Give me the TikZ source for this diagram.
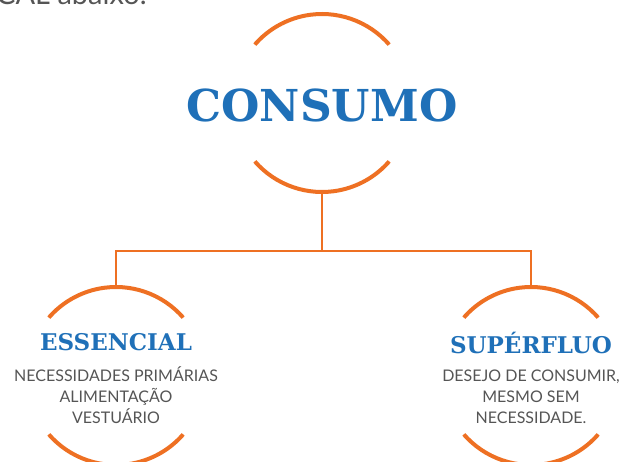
\documentclass[tikz,border=0pt]{standalone}
\usepackage{fontspec}
\usepackage{tikz}
\newfontfamily\slabfont{DejaVu Serif}[BoldFont={DejaVu Serif Bold}]
\newfontfamily\bodyfont{Lato}
\definecolor{laranja}{HTML}{EE7023}
\definecolor{azul}{HTML}{1F70B8}
\definecolor{cinza}{HTML}{555555}

\begin{document}
\begin{tikzpicture}[x=1pt, y=1pt,
        arco/.style={laranja, line width=4pt},
        ligacao/.style={laranja, line width=2.6pt},
        titulo/.style={azul, font=\slabfont\bfseries\fontsize{23}{23}\selectfont, inner sep=0pt},
        texto/.style={cinza, font=\bodyfont\fontsize{16}{21}\selectfont, align=center, inner sep=0pt, anchor=base}]
        \useasboundingbox (0, 0) rectangle (623, 461);

        \node[cinza, font=\bodyfont\fontsize{29}{29}\selectfont, anchor=base west, inner sep=0pt] (cabeca) at (-4, 456) {CAL abaixo.};

        \coordinate (C0) at (322, 358);
        \coordinate (C1) at (116, 85);
        \coordinate (C2) at (531, 85);

        \node[azul, font=\slabfont\bfseries\fontsize{44}{44}\selectfont, inner sep=0pt] (consumo) at (322, 356) {CONSUMO};
        \node[titulo] (essencial) at (116, 118.5) {ESSENCIAL};
        \node[titulo] (superfluo) at (531, 118.5) {SUPÉRFLUO};

        % base = last line
        \node[texto] (primarias) at (116, 38) {NECESSIDADES PRIMÁRIAS\\ALIMENTAÇÃO\\VESTUÁRIO};
        \node[texto] (desejo) at (531, 38) {DESEJO DE CONSUMIR,\\MESMO SEM\\NECESSIDADE.};

        \foreach \c in {C0, C1, C2} {
            \draw[arco] ([shift={(41:89)}]\c) arc (41:139:89);
            \draw[arco] ([shift={(221:89)}]\c) arc (221:319:89);
        }

        \coordinate (B0) at ([yshift=-89]C0);
        \coordinate (T1) at ([yshift=89]C1);
        \coordinate (T2) at ([yshift=89]C2);
        \coordinate (J) at (322, 210);

        \draw[ligacao] (B0) -- (J);
        \draw[ligacao] (T1) |- (J) -| (T2);
    \end{tikzpicture}
\end{document}
